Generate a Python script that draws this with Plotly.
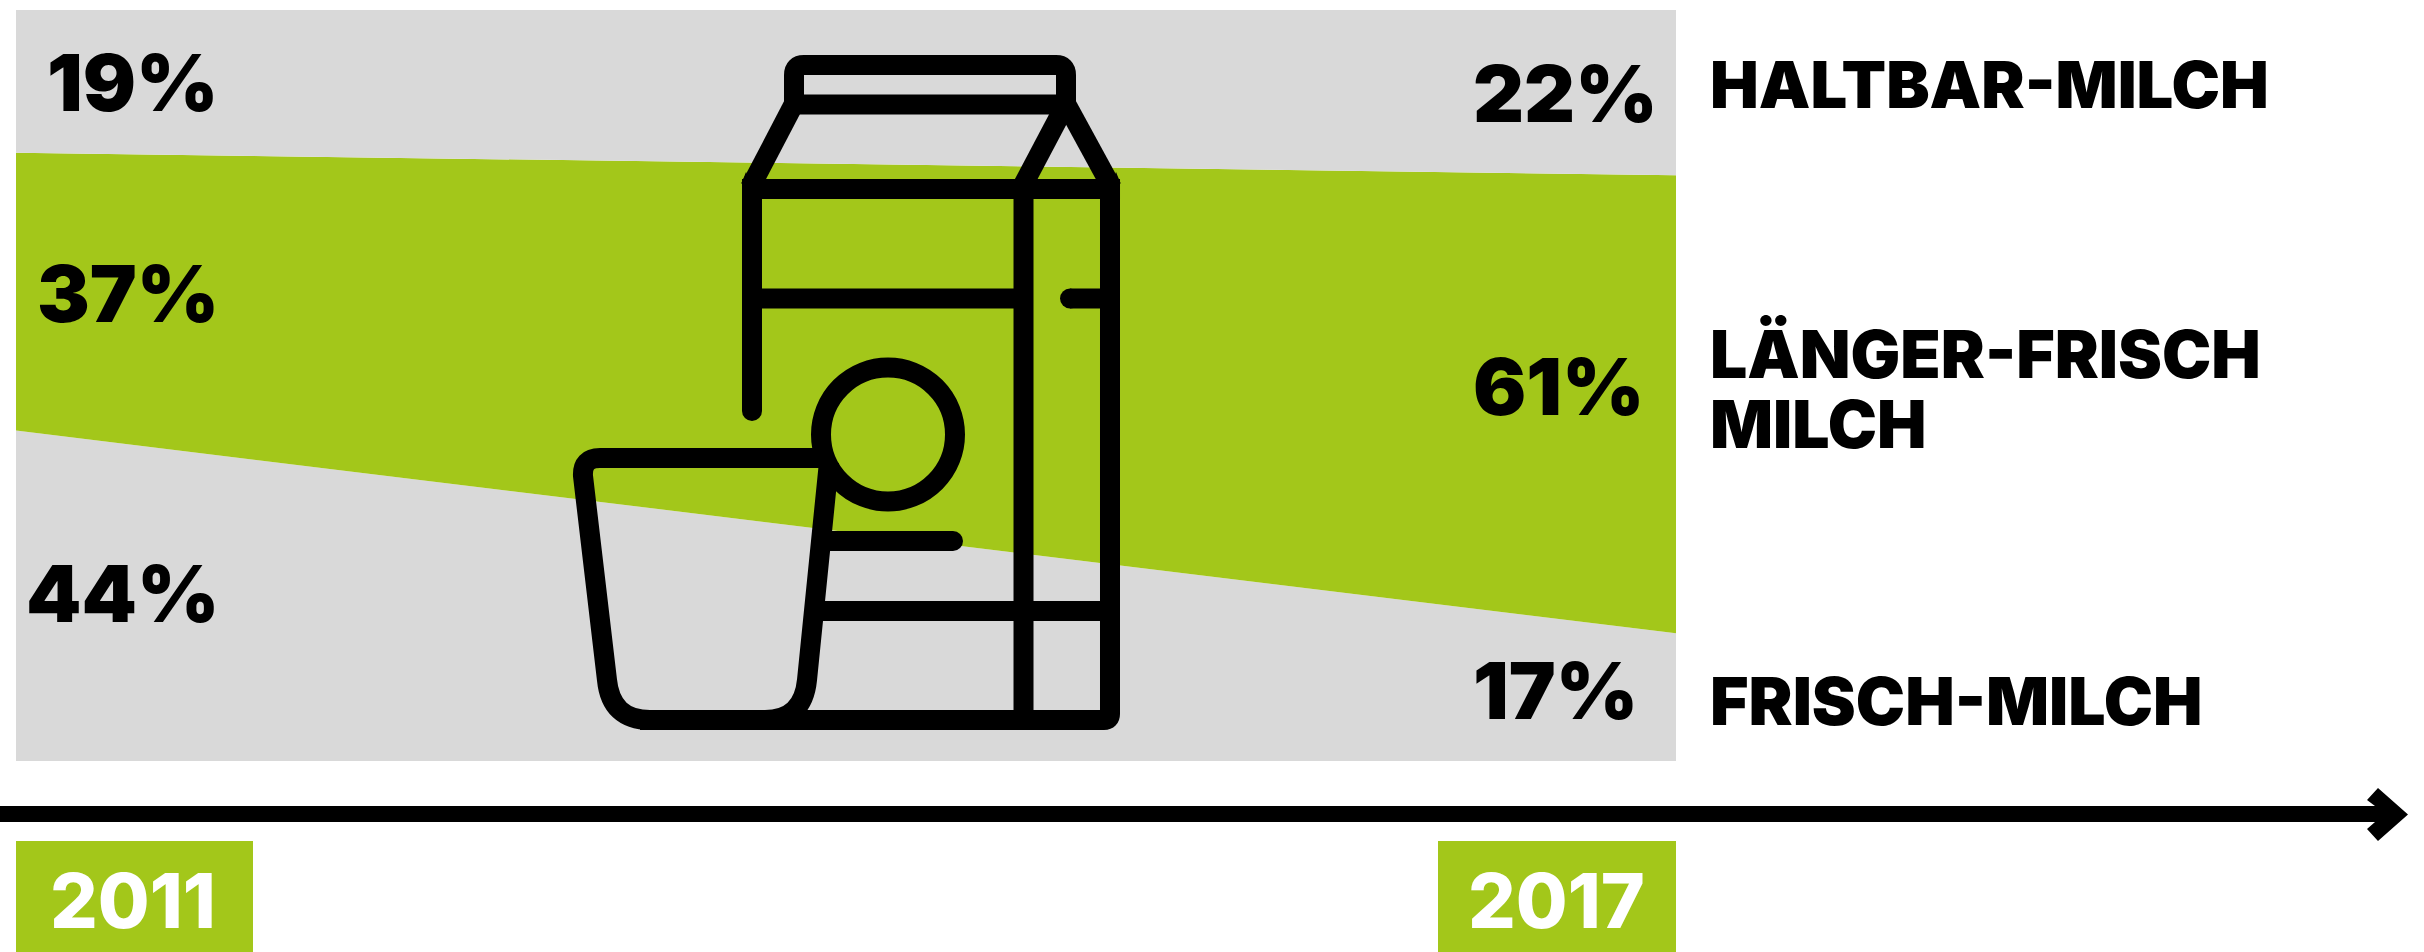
import plotly.graph_objects as go

# Market share of milk types, per cent
years = [2011, 2017]
frisch = [44, 17]
laenger = [37, 61]
haltbar = [19, 22]
series_names = ["FRISCH-MILCH", "LÄNGER-FRISCH MILCH", "HALTBAR-MILCH"]

GREY = "#D9D9D9"
GREEN = "#A3C71A"
W, H = 2424, 952
FONT = "Inter"


def px(x):
    return x / W


def py(y):
    return 1 - y / H


def path(cmds):
    """Build an SVG path in page fractions from pixel-based commands."""
    out = []
    for c in cmds:
        op, vals = c[0], c[1:]
        pts = [f"{px(vals[i]):.5f},{py(vals[i + 1]):.5f}" for i in range(0, len(vals), 2)]
        out.append(op + " ".join(pts))
    return " ".join(out)


fig = go.Figure()
for name, vals, col in zip(series_names, [frisch, laenger, haltbar], [GREY, GREEN, GREY]):
    fig.add_trace(go.Scatter(
        x=years, y=vals, name=name, stackgroup="one", mode="lines",
        line=dict(width=0), fillcolor=col, hoverinfo="skip", showlegend=False,
    ))

shapes = []


def stroke(cmds, width=20):
    shapes.append(dict(type="path", xref="paper", yref="paper", path=path(cmds),
                       line=dict(color="black", width=width), layer="above"))


def filled(cmds):
    shapes.append(dict(type="path", xref="paper", yref="paper", path=path(cmds),
                       fillcolor="black", line=dict(width=0), layer="above"))


def dot(x, y, r=10, line=0, fill="black"):
    shapes.append(dict(type="circle", xref="paper", yref="paper",
                       x0=px(x - r), x1=px(x + r), y0=py(y + r), y1=py(y - r),
                       fillcolor=fill, line=dict(color="black", width=line), layer="above"))


# Milk carton: lid, roof slopes, body
stroke([("M", 794, 104), ("L", 794, 75), ("Q", 794, 65, 804, 65), ("L", 1056, 65),
        ("Q", 1066, 65, 1066, 75), ("L", 1066, 104)])
stroke([("M", 784, 104.5), ("L", 1076, 104.5)])
stroke([("M", 796, 100), ("L", 750, 188)])
stroke([("M", 1064, 100), ("L", 1112, 188)])
stroke([("M", 1068, 100), ("L", 1021.5, 188)])
stroke([("M", 742, 189), ("L", 1120, 189)])
filled([("M", 742, 199), ("L", 742, 182), ("L", 746, 172), ("L", 756, 199), ("Z",)])
filled([("M", 1120, 199), ("L", 1120, 182), ("L", 1116, 172), ("L", 1106, 199), ("Z",)])
stroke([("M", 752, 185), ("L", 752, 411)])
dot(752, 411)
stroke([("M", 1110, 185), ("L", 1110, 714), ("Q", 1110, 720, 1104, 720), ("L", 640, 720)])
stroke([("M", 1023.5, 189), ("L", 1023.5, 720)])
stroke([("M", 752, 298.5), ("L", 1023.5, 298.5)])
stroke([("M", 1070, 298.5), ("L", 1110, 298.5)])
dot(1070, 298.5)
stroke([("M", 818, 611), ("L", 1110, 611)])
stroke([("M", 825, 541), ("L", 953, 541)])
dot(953, 541)

# Glass in front of the carton
stroke([("M", 826, 458), ("L", 600, 458), ("Q", 582, 458, 583, 476), ("L", 607, 680),
        ("Q", 611, 720, 650, 720), ("L", 765, 720), ("Q", 803, 720, 807, 680), ("L", 829, 462)])
dot(888, 434.5, r=67, line=20, fill="rgba(0,0,0,0)")

# Time arrow
stroke([("M", 0, 814), ("L", 2385, 814)], width=16)
filled([("M", 2378, 788), ("L", 2408, 814.5), ("L", 2378, 841), ("L", 2367, 829),
        ("L", 2375, 822), ("L", 2375, 806), ("L", 2367, 800), ("Z",)])

# Year tags
for x0, x1 in [(16, 253), (1438, 1676)]:
    shapes.append(dict(type="rect", xref="paper", yref="paper", x0=px(x0), x1=px(x1),
                       y0=py(H), y1=py(841), fillcolor=GREEN, line=dict(width=0), layer="above"))

annotations = []


def label(text, x, y, size, anchor="left", color="black", weight=900):
    annotations.append(dict(
        text=text, x=px(x), y=py(y), xref="paper", yref="paper", xanchor=anchor, yanchor="middle",
        showarrow=False, borderpad=0, font=dict(family=FONT, size=size, color=color, weight=weight),
    ))


for val, yc in zip([haltbar[0], laenger[0], frisch[0]], [82, 293, 593]):
    label(f"{val}%", 220, yc, 79, "right")
for val, yc in zip([haltbar[1], laenger[1], frisch[1]], [93, 386, 690]):
    label(f"{val}%", 1472, yc, 79, "left")

label("HALTBAR-MILCH", 1709, 84, 65)
label("LÄNGER-FRISCH", 1709, 354, 66)
label("MILCH", 1709, 424, 66)
label("FRISCH-MILCH", 1709, 701, 66)

label(str(years[0]), 133, 900, 75, "center", "white", 800)
label(str(years[1]), 1556, 900, 75, "center", "white", 800)

fig.update_layout(
    width=W, height=H, margin=dict(l=0, r=0, t=0, b=0),
    paper_bgcolor="white", plot_bgcolor="white", showlegend=False,
    shapes=shapes, annotations=annotations,
    xaxis=dict(domain=[px(16), px(1676)], range=years, visible=False, fixedrange=True),
    yaxis=dict(domain=[py(761), py(10)], range=[0, 100], visible=False, fixedrange=True),
)
fig.write_html("out.html", config=dict(displayModeBar=False))
